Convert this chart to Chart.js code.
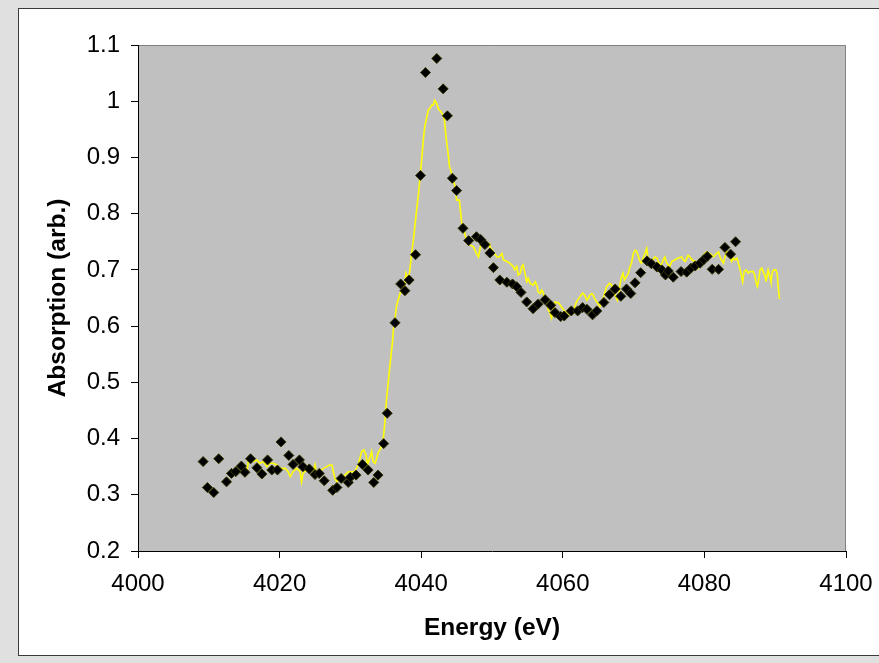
<!DOCTYPE html>
<html>
<head>
<meta charset="utf-8">
<script src="https://cdn.jsdelivr.net/npm/chart.js@4.4.1/dist/chart.umd.min.js"></script>
<style>
  html, body { margin: 0; padding: 0; }
  body { width: 879px; height: 663px; background: #e0e0e0; position: relative; overflow: hidden; }
  #frame { position: absolute; left: 18px; top: 8px; width: 870px; height: 646px; background: #fff; border: 1px solid #3a3a3a; }
  #wrap { position: absolute; left: 0; top: 0; width: 879px; height: 663px; }
</style>
</head>
<body>
<div id="frame"></div>
<div id="wrap"><canvas id="xanes" width="879" height="663"></canvas></div>
<script>
// ---- data ----
// measured points (black diamonds)
const pointsE = [4009.2, 4009.8, 4010.7, 4011.4, 4012.5, 4013.2, 4013.8, 4014.6, 4015.1, 4015.9,
  4016.8, 4017.5, 4018.3, 4018.9, 4019.7, 4020.2, 4021.3, 4021.9, 4022.8, 4023.3,
  4024.2, 4025.0, 4025.6, 4026.3, 4027.5, 4028.1, 4028.7, 4029.7, 4030.0, 4030.8,
  4031.7, 4032.5, 4033.3, 4033.9, 4034.7, 4035.2, 4036.3, 4037.1, 4037.7, 4038.3,
  4039.2, 4039.9, 4040.6, 4042.2, 4043.1, 4043.7, 4044.4, 4045.0, 4045.9, 4046.7,
  4047.8, 4048.4, 4049.0, 4049.7, 4050.2, 4051.1, 4052.1, 4052.9, 4053.5, 4054.1,
  4054.9, 4055.8, 4056.5, 4057.5, 4058.3, 4058.9, 4059.7, 4060.2, 4061.2, 4062.1,
  4062.8, 4063.4, 4064.2, 4064.8, 4065.8, 4066.6, 4067.4, 4068.2, 4069.0, 4069.6,
  4070.2, 4071.0, 4071.9, 4072.5, 4073.3, 4074.0, 4074.5, 4074.9, 4075.6, 4076.7,
  4077.5, 4078.1, 4078.7, 4079.4, 4079.9, 4080.4, 4081.1, 4082.0, 4082.9, 4083.7,
  4084.4];
const pointsA = [0.359, 0.313, 0.304, 0.364, 0.323, 0.338, 0.341, 0.351, 0.340, 0.364,
  0.348, 0.337, 0.362, 0.344, 0.344, 0.394, 0.370, 0.354, 0.362, 0.350,
  0.346, 0.336, 0.338, 0.325, 0.308, 0.313, 0.329, 0.322, 0.331, 0.335,
  0.354, 0.344, 0.322, 0.335, 0.391, 0.445, 0.606, 0.675, 0.663, 0.682,
  0.727, 0.868, 1.051, 1.076, 1.022, 0.974, 0.863, 0.841, 0.774, 0.752,
  0.759, 0.754, 0.745, 0.730, 0.704, 0.682, 0.678, 0.675, 0.670, 0.660,
  0.643, 0.631, 0.639, 0.647, 0.637, 0.624, 0.617, 0.618, 0.627, 0.627,
  0.633, 0.630, 0.620, 0.627, 0.642, 0.656, 0.666, 0.653, 0.666, 0.658,
  0.677, 0.695, 0.716, 0.711, 0.705, 0.700, 0.691, 0.698, 0.687, 0.697,
  0.696, 0.703, 0.707, 0.712, 0.718, 0.724, 0.701, 0.701, 0.740, 0.728,
  0.750];

// reference spectrum (yellow line)
const lineE = [4015.35, 4015.6, 4016.3, 4016.8, 4017.2, 4017.7, 4018.2, 4018.6, 4019.1, 4019.6,
  4020.1, 4020.8, 4021.2, 4021.5, 4021.9, 4022.4, 4022.9, 4023.1, 4023.3, 4023.8,
  4024.3, 4024.8, 4025.0, 4025.2, 4025.7, 4026.2, 4026.65, 4027.0, 4027.4, 4027.8,
  4028.1, 4028.5, 4029.2, 4029.7, 4030.2, 4030.6, 4031.1, 4031.4, 4031.6, 4031.9,
  4032.2, 4032.4, 4032.8, 4033.0, 4033.2, 4033.5, 4033.9, 4034.4, 4034.6, 4034.9,
  4035.1, 4035.5, 4035.97, 4036.06, 4036.3, 4036.5, 4037.0, 4037.2, 4037.6, 4037.85,
  4038.2, 4038.4, 4038.65, 4038.9, 4039.1, 4039.4, 4039.6, 4039.8, 4039.9, 4040.1,
  4040.3, 4040.5, 4040.8, 4041.0, 4041.2, 4041.5, 4041.7, 4041.9, 4042.2, 4042.4,
  4042.6, 4042.8, 4043.1, 4043.3, 4043.5, 4043.8, 4044.0, 4044.3, 4044.5, 4044.8,
  4045.0, 4045.4, 4045.7, 4045.95, 4046.4, 4046.9, 4047.4, 4047.8, 4048.1, 4048.3,
  4048.5, 4048.8, 4049.25, 4049.6, 4049.7, 4050.2, 4050.7, 4051.0, 4051.4, 4051.6,
  4052.1, 4052.5, 4053.0, 4053.2, 4053.5, 4053.7, 4054.0, 4054.2, 4054.4, 4054.7,
  4054.9, 4055.1, 4055.4, 4055.8, 4056.1, 4056.4, 4056.5, 4056.8, 4057.0, 4057.2,
  4057.5, 4057.7, 4057.95, 4058.2, 4058.4, 4058.9, 4059.4, 4059.6, 4060.1, 4060.3,
  4060.5, 4060.8, 4061.25, 4061.5, 4061.95, 4062.4, 4062.8, 4063.1, 4063.4, 4063.6,
  4063.8, 4064.1, 4064.3, 4064.5, 4064.8, 4065.25, 4065.7, 4065.96, 4066.2, 4066.6,
  4066.9, 4067.1, 4067.5, 4067.7, 4068.0, 4068.1, 4068.3, 4068.5, 4068.7, 4069.0,
  4069.25, 4069.5, 4069.7, 4069.96, 4070.2, 4070.4, 4070.7, 4070.9, 4071.1, 4071.4,
  4071.6, 4071.85, 4072.0, 4072.3, 4072.5, 4073.0, 4073.3, 4073.5, 4073.7, 4074.0,
  4074.2, 4074.4, 4074.7, 4074.9, 4075.1, 4075.4, 4075.85, 4076.3, 4076.8, 4077.0,
  4077.3, 4077.5, 4077.7, 4077.97, 4078.2, 4078.7, 4079.1, 4079.4, 4079.85, 4080.3,
  4080.8, 4081.3, 4081.7, 4082.0, 4082.2, 4082.4, 4082.7, 4082.9, 4083.15, 4083.4,
  4083.6, 4083.85, 4084.1, 4084.3, 4084.6, 4084.8, 4085.0, 4085.3, 4085.4, 4085.6,
  4085.9, 4086.2, 4086.4, 4086.9, 4087.1, 4087.4, 4087.5, 4087.7, 4087.85, 4088.1,
  4088.3, 4088.6, 4088.7, 4088.9, 4089.0, 4089.3, 4089.4, 4089.6, 4089.8, 4090.1,
  4090.3, 4090.4, 4090.6];
const lineA = [0.335, 0.362, 0.359, 0.362, 0.356, 0.359, 0.350, 0.356, 0.356, 0.353,
  0.347, 0.347, 0.341, 0.332, 0.341, 0.347, 0.341, 0.323, 0.338, 0.344,
  0.341, 0.344, 0.353, 0.335, 0.342, 0.347, 0.350, 0.353, 0.353, 0.329,
  0.323, 0.329, 0.335, 0.341, 0.341, 0.341, 0.353, 0.368, 0.377, 0.380,
  0.371, 0.353, 0.368, 0.377, 0.359, 0.356, 0.374, 0.385, 0.394, 0.433,
  0.469, 0.520, 0.575, 0.593, 0.611, 0.635, 0.658, 0.661, 0.667, 0.694,
  0.682, 0.700, 0.729, 0.753, 0.777, 0.812, 0.833, 0.860, 0.872, 0.901,
  0.931, 0.955, 0.972, 0.984, 0.987, 0.993, 0.993, 1.002, 0.996, 0.987,
  0.984, 0.981, 0.975, 0.964, 0.937, 0.907, 0.884, 0.872, 0.860, 0.848,
  0.824, 0.824, 0.785, 0.774, 0.753, 0.744, 0.741, 0.729, 0.723, 0.738,
  0.747, 0.744, 0.747, 0.747, 0.741, 0.732, 0.723, 0.723, 0.729, 0.718,
  0.715, 0.712, 0.706, 0.700, 0.706, 0.691, 0.694, 0.706, 0.709, 0.691,
  0.679, 0.685, 0.676, 0.673, 0.679, 0.670, 0.661, 0.658, 0.664, 0.661,
  0.646, 0.641, 0.629, 0.623, 0.614, 0.643, 0.641, 0.638, 0.629, 0.626,
  0.623, 0.620, 0.623, 0.629, 0.643, 0.652, 0.659, 0.655, 0.646, 0.649,
  0.655, 0.658, 0.655, 0.649, 0.643, 0.635, 0.649, 0.661, 0.670, 0.676,
  0.673, 0.664, 0.652, 0.646, 0.664, 0.676, 0.688, 0.694, 0.682, 0.688,
  0.694, 0.706, 0.712, 0.729, 0.735, 0.734, 0.723, 0.715, 0.712, 0.723,
  0.729, 0.738, 0.723, 0.712, 0.715, 0.723, 0.721, 0.715, 0.706, 0.712,
  0.718, 0.723, 0.712, 0.709, 0.706, 0.715, 0.718, 0.721, 0.723, 0.718,
  0.715, 0.721, 0.726, 0.723, 0.718, 0.715, 0.703, 0.715, 0.726, 0.732,
  0.729, 0.723, 0.729, 0.732, 0.723, 0.718, 0.712, 0.723, 0.732, 0.729,
  0.723, 0.715, 0.721, 0.718, 0.721, 0.712, 0.703, 0.685, 0.679, 0.697,
  0.700, 0.694, 0.697, 0.697, 0.691, 0.673, 0.670, 0.685, 0.700, 0.703,
  0.697, 0.688, 0.679, 0.694, 0.700, 0.685, 0.679, 0.697, 0.700, 0.700,
  0.691, 0.673, 0.648];

const xTitle = 'Energy (eV)';
const yTitle = 'Absorption (arb.)';

// gray plot area + thin gray top/right edges, like the Excel original
const plotBg = {
  id: 'plotBg',
  beforeDraw(chart) {
    const { ctx, chartArea: a } = chart;
    ctx.save();
    ctx.fillStyle = '#c0c0c0';
    ctx.fillRect(a.left, a.top, a.right - a.left, a.bottom - a.top);
    ctx.strokeStyle = '#808080';
    ctx.lineWidth = 1;
    ctx.beginPath();
    ctx.moveTo(a.left, a.top + 0.5);
    ctx.lineTo(a.right - 0.5, a.top + 0.5);
    ctx.lineTo(a.right - 0.5, a.bottom);
    ctx.stroke();
    ctx.restore();
  }
};

const font = 'Liberation Sans, Arial, Helvetica, sans-serif';

new Chart(document.getElementById('xanes'), {
  type: 'scatter',
  data: {
    datasets: [{
      label: 'measured',
      data: pointsE.map((e, i) => ({ x: e, y: pointsA[i] })),
      pointStyle: 'rectRot',
      pointRadius: 5,
      pointBackgroundColor: '#000000',
      pointBorderColor: '#333300',
      pointBorderWidth: 1,
      showLine: false
    }, {
      label: 'reference',
      data: lineE.map((e, i) => ({ x: e, y: lineA[i] })),
      showLine: true,
      borderColor: '#ffff00',
      borderWidth: 1.6,
      pointRadius: 0,
      tension: 0
    }]
  },
  options: {
    responsive: false,
    animation: false,
    events: [],
    layout: { padding: { left: 44, top: 45, right: 33, bottom: 20 } },
    plugins: { legend: { display: false }, tooltip: { enabled: false } },
    scales: {
      x: {
        type: 'linear', min: 4000, max: 4100,
        afterFit(s) { s.height = 92; s.paddingLeft = 0; s.paddingRight = 0; },
        ticks: {
          stepSize: 20, color: '#000', padding: 12, maxRotation: 0,
          font: { family: font, size: 24 },
          callback: v => String(v)
        },
        grid: { drawOnChartArea: false, drawTicks: true, tickLength: 7, color: '#000' },
        border: { display: true, color: '#000', width: 1 },
        title: { display: true, text: xTitle, color: '#000', padding: 0, font: { family: font, size: 24.5, weight: 'bold' } }
      },
      y: {
        type: 'linear', min: 0.2, max: 1.1,
        afterFit(s) { s.width = 94; s.paddingTop = 0; s.paddingBottom = 0; },
        ticks: {
          stepSize: 0.1, color: '#000', padding: 11,
          font: { family: font, size: 24 },
          callback: v => String(Number(v.toFixed(1)))
        },
        grid: { drawOnChartArea: false, drawTicks: true, tickLength: 7, color: '#000' },
        border: { display: true, color: '#000', width: 1 },
        title: { display: true, text: yTitle, color: '#000', padding: 0, font: { family: font, size: 24.5, weight: 'bold' } }
      }
    }
  },
  plugins: [plotBg]
});
</script>
</body>
</html>
